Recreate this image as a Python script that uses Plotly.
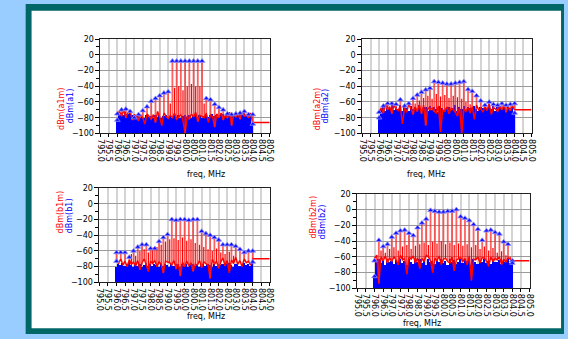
import plotly.graph_objects as go

W, H = 568, 339

# ---------------- data ----------------
FREQ_TICKS = [795.0 + 0.5 * k for k in range(21)]
TICK_TEXT = ["%.1f" % f for f in FREQ_TICKS]
TONE_FREQ = [796.0 + 0.25 * i for i in range(33)]
MID_FREQ = [796.125 + 0.25 * j for j in range(32)]
FLOOR_FREQ = [796.0 + 0.125 * k for k in range(65)]
EDGE_FREQ = [796.0, 804.0]

# ---- a1 ----
a1_tone = [-75, -70, -69, -72, -80, -76, -71, -66, -59, -55.5, -52, -48.5, -47,
           -8, -8, -8, -8, -8, -8, -8, -8,
           -55.5, -57, -63, -67, -70, -75, -76, -75, -74, -72, -76, -76]
a1_imd = [None] * 12 + [-62, -42, -40, -45, -40, -37, -40, -40, -62] + [None] * 11
a1_blue = [-82, -76, -74, -77, -73, -75, -72, -76, -79,
           -80, -78, -81, -79, -80, -77, -79, -78,
           -80, -77, -79, -76, -80, -78, -77, -79,
           -78, -80, -76, -79, -77, -80, -78, -76,
           -79, -77, -80, -78, -76, -79, -77, -80,
           -78, -76, -79, -77, -75, -78, -76, -79,
           -77, -75, -78, -76, -74, -77, -75, -78,
           -76, -74, -77, -73, -76, -75, -74, -88]
a1_red = [-75, -72, -78, -70, -80, -74, -71, -83, -76,
          -78, -84, -76, -80, -88, -75, -79, -82,
          -76, -86, -72, -79, -90, -74, -78, -81,
          -77, -80, -74, -82, -79, -76, -84, -100,
          -78, -82, -75, -79, -73, -85, -77, -78,
          -80, -74, -86, -76, -79, -92, -75, -80,
          -74, -83, -77, -80, -73, -90, -76, -79,
          -75, -82, -73, -78, -76, -80, -74, -88]
a1_edge = [-83, -88]
a1_tail = -86

# ---- a2 ----
a2_tone = [-73, -65, -62, -62, -63, -57, -65, -62, -55.5, -51, -47.5, -44.5, -42.5,
           -34, -35, -36, -37, -37, -36, -35, -34,
           -44, -46.5, -52, -58.5, -64, -60, -63, -64, -62, -64, -63, -62]
a2_imd = [None] * 8 + [-62, -58, -55, -52, -56, -50, -53, -51, -55, -52, -54, -56, -60, -63] + [None] * 10
a2_blue = [-80, -70, -66, -72, -65, -68, -63, -70, -67,
           -69, -64, -71, -66, -68, -72, -65, -69,
           -67, -70, -64, -71, -68, -66, -72, -65,
           -70, -66, -69, -73, -65, -68, -71, -67,
           -66, -70, -68, -64, -72, -67, -69, -65,
           -71, -66, -68, -70, -65, -69, -72, -66,
           -68, -64, -70, -66, -69, -65, -71, -67,
           -65, -69, -66, -70, -64, -68, -66, -74]
a2_red = [-72, -68, -74, -63, -70, -66, -75, -64, -69,
          -71, -65, -88, -67, -73, -62, -70, -76,
          -66, -72, -63, -75, -64, -90, -67, -70,
          -68, -72, -74, -65, -98, -70, -72, -66,
          -75, -68, -70, -73, -78, -66, -100, -69,
          -72, -67, -74, -66, -82, -64, -70, -68,
          -73, -65, -71, -62, -76, -67, -69, -72,
          -66, -70, -64, -73, -67, -71, -65, -70]
a2_edge = [-80, -74]
a2_tail = -70

# ---- b1 ----
b1_tone = [-62, -62, -62, -68, -60, -55, -52, -52, -57, -57, -48, -43, -39,
           -20, -21, -20, -20, -21, -20, -20,
           -35, -38, -40, -43, -46, -52, -52, -52, -54, -58, -62, -60, -60]
b1_imd = [None] * 3 + [-64, -66, -60, -58, -62, -56, -55, -52, -48, -45, -44, -46, -43,
                       -47, -45, -50, -52, -55, -58, -60, -57, -62, -64, -61, -66] + [None] * 4
b1_blue = [-80, -76, -78, -75, -79, -77, -74, -78, -80,
           -77, -79, -76, -80, -78, -75, -79, -77,
           -79, -76, -78, -80, -77, -79, -76, -78,
           -80, -77, -79, -76, -78, -81, -77, -79,
           -76, -80, -78, -77, -79, -76, -80, -78,
           -77, -79, -76, -78, -80, -77, -79, -76,
           -78, -76, -79, -77, -75, -78, -80, -77,
           -76, -79, -77, -75, -78, -76, -79, -74]
b1_red = [-72, -76, -70, -78, -73, -80, -71, -77, -74,
          -79, -72, -84, -75, -70, -78, -86, -73,
          -76, -72, -80, -74, -77, -88, -73, -74,
          -75, -78, -72, -83, -76, -92, -74, -80,
          -73, -79, -75, -86, -77, -78, -72, -81,
          -74, -76, -78, -95, -70, -77, -73, -82,
          -74, -69, -79, -72, -88, -71, -76, -68,
          -77, -72, -80, -70, -75, -73, -78, -72]
b1_edge = [-73, -74]
b1_tail = -70

# ---- b2 ----
b2_tone = [-65, -39, -47, -44, -35, -30, -27, -26, -30, -33, -23, -17, -12,
           -1, -2, -3, -3, -2, -2, 0,
           -9, -11, -14, -19, -25, -39, -27, -26, -29, -31, -41, -44, -65]
b2_imd = [-60, -52, -55, -50, -48, -52, -47, -45, -50, -46, -44, -42, -45, -41, -43, -40,
          -44, -42, -45, -43, -46, -44, -48, -45, -50, -47, -52, -49, -55, -53, -58, -60]
b2_blue = [-85, -66, -62, -68, -64, -70, -63, -67, -65,
           -69, -64, -66, -62, -68, -65, -70, -63,
           -66, -69, -64, -67, -62, -68, -65, -70,
           -63, -67, -65, -69, -64, -66, -62, -68,
           -65, -70, -63, -67, -64, -69, -66, -62,
           -68, -64, -67, -65, -70, -63, -66, -69,
           -64, -67, -62, -68, -65, -69, -63, -66,
           -67, -64, -69, -65, -66, -63, -68, -66]
b2_red = [-62, -58, -94, -60, -65, -59, -68, -61, -66,
          -60, -64, -70, -58, -64, -62, -82, -60,
          -63, -59, -68, -61, -75, -62, -66, -58,
          -60, -65, -80, -62, -65, -59, -70, -63,
          -62, -66, -68, -60, -78, -64, -63, -61,
          -66, -62, -70, -59, -90, -63, -64, -60,
          -68, -61, -62, -65, -72, -60, -66, -62,
          -64, -60, -70, -63, -67, -61, -63, -66]
b2_edge = [-85, -68]
b2_tail = -65

PANELS = [
    dict(name="a1", tone=a1_tone, imd=a1_imd, blue=a1_blue, red=a1_red, edge=a1_edge, tail=a1_tail,
         box=(97, 269, 36, 133), ylab_x=(51, 60), xt_y=175),
    dict(name="a2", tone=a2_tone, imd=a2_imd, blue=a2_blue, red=a2_red, edge=a2_edge, tail=a2_tail,
         box=(363, 535, 36, 133), ylab_x=(317, 326), xt_y=175),
    dict(name="b1", tone=b1_tone, imd=b1_imd, blue=b1_blue, red=b1_red, edge=b1_edge, tail=b1_tail,
         box=(96, 269, 189, 286), ylab_x=(50, 59), xt_y=328),
    dict(name="b2", tone=b2_tone, imd=b2_imd, blue=b2_blue, red=b2_red, edge=b2_edge, tail=b2_tail,
         box=(358, 533, 195, 292), ylab_x=(314, 323), xt_y=335),
]

FONT = "DejaVu Sans"
fig = go.Figure()
annotations = []
layout = {}

for k, p in enumerate(PANELS):
    n = "" if k == 0 else str(k + 1)
    xa, ya = "x" + n, "y" + n
    x0, x1, y0, y1 = p["box"]

    # blue spectrum fill
    fig.add_trace(go.Bar(x=FLOOR_FREQ, y=[v + 100 for v in p["blue"]], base=-100, width=0.125,
                         marker=dict(color="#0000FF", line=dict(width=0)),
                         xaxis=xa, yaxis=ya, hoverinfo="skip"))
    # red floor line with tail
    fig.add_trace(go.Scatter(x=FLOOR_FREQ + [804.0, 805.0], y=p["red"] + [p["tail"], p["tail"]],
                             mode="lines", line=dict(color="#FF0000", width=1.5),
                             xaxis=xa, yaxis=ya, hoverinfo="skip"))
    # light red tone stems
    sx, sy = [], []
    for i, t in enumerate(TONE_FREQ):
        sx += [t, t, None]
        sy += [p["red"][2 * i], p["tone"][i], None]
    fig.add_trace(go.Scatter(x=sx, y=sy, mode="lines",
                             line=dict(color="rgba(255,30,30,0.7)", width=1.8),
                             xaxis=xa, yaxis=ya, hoverinfo="skip"))
    # intermod stems
    ix, iy = [], []
    for j, t in enumerate(MID_FREQ):
        if p["imd"][j] is None:
            continue
        ix += [t, t, None]
        iy += [p["red"][2 * j + 1], p["imd"][j], None]
    fig.add_trace(go.Scatter(x=ix, y=iy, mode="lines", line=dict(color="#FF0000", width=1.2),
                             xaxis=xa, yaxis=ya, hoverinfo="skip"))
    # blue tone markers
    fig.add_trace(go.Scatter(x=TONE_FREQ + EDGE_FREQ, y=p["tone"] + p["edge"], mode="markers",
                             marker=dict(symbol="triangle-up", size=5, color="#1010FF",
                                         line=dict(color="rgba(140,140,255,0.8)", width=1)),
                             xaxis=xa, yaxis=ya, hoverinfo="skip"))

    layout["xaxis" + n] = dict(
        domain=[x0 / W, x1 / W], anchor=ya, range=[795, 805],
        tickmode="array", tickvals=FREQ_TICKS, ticktext=TICK_TEXT, tickangle=90,
        tickfont=dict(family=FONT, size=8, color="black"),
        ticks="outside", ticklen=3, tickcolor="black",
        showgrid=True, gridcolor="#d4d4d4", gridwidth=2,
        showline=True, mirror=True, linecolor="#222", linewidth=1, zeroline=False, fixedrange=True)
    layout["yaxis" + n] = dict(
        domain=[1 - y1 / H, 1 - y0 / H], anchor=xa, range=[-100, 20],
        tickmode="linear", tick0=-100, dtick=20,
        tickfont=dict(family=FONT, size=8, color="black"),
        ticks="outside", ticklen=4, tickcolor="black",
        minor=dict(dtick=10, ticks="outside", ticklen=3, tickcolor="black", showgrid=False),
        showgrid=True, gridcolor="#9a9a9a", gridwidth=1,
        showline=True, mirror=True, linecolor="#222", linewidth=1, zeroline=False, fixedrange=True)

    yc = 1 - (y0 + y1) / 2 / H
    annotations.append(dict(x=p["ylab_x"][0] / W, y=yc, xref="paper", yref="paper",
                            text="dBm(%sm)" % p["name"], textangle=-90, showarrow=False,
                            font=dict(family=FONT, size=8, color="#FF0000")))
    annotations.append(dict(x=p["ylab_x"][1] / W, y=yc, xref="paper", yref="paper",
                            text="dBm(%s)" % p["name"], textangle=-90, showarrow=False,
                            font=dict(family=FONT, size=8, color="#0000FF")))
    annotations.append(dict(x=(x0 + x1) / 2 / W, y=1 - p["xt_y"] / H, xref="paper", yref="paper",
                            text="freq, MHz", showarrow=False,
                            font=dict(family=FONT, size=8, color="black")))

shapes = [
    dict(type="rect", xref="paper", yref="paper", x0=21 / W, x1=1, y0=0, y1=1,
         fillcolor="#006666", line=dict(width=0), layer="below"),
    dict(type="rect", xref="paper", yref="paper", x0=27 / W, x1=565 / W, y0=1 - 333 / H, y1=1 - 7 / H,
         fillcolor="white", line=dict(width=0), layer="below"),
]

fig.update_layout(width=W, height=H, autosize=False, margin=dict(l=0, r=0, t=0, b=0),
                  paper_bgcolor="#99CCFF", plot_bgcolor="white", showlegend=False,
                  bargap=0, annotations=annotations, shapes=shapes, **layout)

fig.write_html("out.html")
